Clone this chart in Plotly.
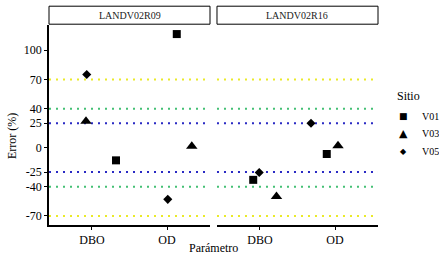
import plotly.graph_objects as go

panels = ["LANDV02R09", "LANDV02R16"]
params = ["DBO", "OD"]
sites = ["V01", "V03", "V05"]

# x positions (category index + jitter) and error values per panel/site
x_p1 = {"V01": [1.32, 2.13], "V03": [0.92, 2.33], "V05": [0.93, 2.01]}
y_p1 = {"V01": [-13, 116.5], "V03": [27, 1.5], "V05": [75, -53]}
x_p2 = {"V01": [0.91, 1.89], "V03": [1.22, 2.04], "V05": [0.99, 1.68]}
y_p2 = {"V01": [-33, -6.5], "V03": [-50, 2], "V05": [-25.5, 25]}

y_ticks = [100, 70, 40, 25, 0, -25, -40, -70]
ref_lines = [(70, "#eaea28"), (-70, "#eaea28"), (40, "#44c074"), (-40, "#44c074"),
             (25, "#2a2ac4"), (-25, "#2a2ac4")]

symbols = {"V01": "square", "V03": "triangle-up", "V05": "diamond"}
sizes = {"V01": 8, "V03": 10, "V05": 7}
legend_glyphs = {"V01": ("■", 9), "V03": ("▲", 11), "V05": ("◆", 8)}

FONT = "Liberation Serif"
fig = go.Figure()

for si, s in enumerate(sites):
    for pi, (xs, ys) in enumerate([(x_p1, y_p1), (x_p2, y_p2)]):
        fig.add_trace(go.Scatter(
            x=xs[s], y=ys[s], mode="markers",
            marker=dict(symbol=symbols[s], size=sizes[s], color="black"),
            name=s, showlegend=False,
            xaxis="x" if pi == 0 else "x2", yaxis="y",
        ))

shapes = []
for xr in ["x", "x2"]:
    for val, col in ref_lines:
        shapes.append(dict(type="line", xref=xr + " domain", yref="y",
                           x0=0, x1=1, y0=val, y1=val,
                           line=dict(color=col, width=2, dash="2px,5px"), layer="below"))
doms = [(0, 0.4894), (0.5106, 1)]
annotations = []
for (d0, d1), name in zip(doms, panels):
    shapes.append(dict(type="rect", xref="paper", yref="paper", x0=d0, x1=d1,
                       y0=1.004, y1=1.094, line=dict(color="black", width=1),
                       fillcolor="white"))
    annotations.append(dict(text=name, xref="paper", yref="paper", x=(d0 + d1) / 2,
                            y=1.049, showarrow=False,
                            font=dict(family=FONT, size=10, color="#222"),
                            xanchor="center", yanchor="middle"))

# axis titles
annotations.append(dict(text="Parámetro", xref="paper", yref="paper", x=0.5015,
                        y=-0.114, xanchor="center", yanchor="middle", showarrow=False,
                        font=dict(family=FONT, size=12, color="black")))
annotations.append(dict(text="Error (%)", xref="paper", yref="paper", x=-0.1125,
                        y=0.445, xanchor="center", yanchor="middle", showarrow=False,
                        textangle=-90, font=dict(family=FONT, size=12, color="black")))

# legend (title + keys)
annotations.append(dict(text="Sitio", xref="paper", yref="paper", x=1.0517, y=0.6436,
                        xanchor="left", yanchor="middle", showarrow=False,
                        font=dict(family=FONT, size=12, color="black")))
leg_y = [0.5446, 0.4554, 0.3663]
for s, ly in zip(sites, leg_y):
    g, gs = legend_glyphs[s]
    annotations.append(dict(text=g, xref="paper", yref="paper", x=1.076, y=ly,
                            xanchor="center", yanchor="middle", showarrow=False,
                            font=dict(family="DejaVu Sans", size=gs, color="black")))
    annotations.append(dict(text=s, xref="paper", yref="paper", x=1.1277, y=ly,
                            xanchor="left", yanchor="middle", showarrow=False,
                            font=dict(family=FONT, size=10, color="black")))

xcommon = dict(range=[0.427, 2.573], tickvals=[1, 2], ticktext=params,
               showline=True, linecolor="black", linewidth=1.5, ticks="outside",
               ticklen=3, tickcolor="black", showgrid=False, zeroline=False,
               tickfont=dict(family=FONT, size=12, color="black"), fixedrange=True)

fig.update_layout(
    width=439, height=259,
    margin=dict(l=49, r=61, t=25, b=32),
    paper_bgcolor="white", plot_bgcolor="white",
    font=dict(family=FONT, color="black"),
    showlegend=False,
    xaxis=dict(domain=list(doms[0]), anchor="y", **xcommon),
    xaxis2=dict(domain=list(doms[1]), anchor="y", **xcommon),
    yaxis=dict(range=[-79.3, 125.8], tickvals=y_ticks,
               ticktext=[str(v) for v in y_ticks], showline=True,
               linecolor="black", linewidth=1.5, ticks="outside", ticklen=3,
               tickcolor="black", showgrid=False, zeroline=False,
               tickfont=dict(family=FONT, size=12, color="black")),
    shapes=shapes,
    annotations=annotations,
)

fig.write_html("out.html", config={"displayModeBar": False},
               post_script="document.body.style.margin='0px';")
